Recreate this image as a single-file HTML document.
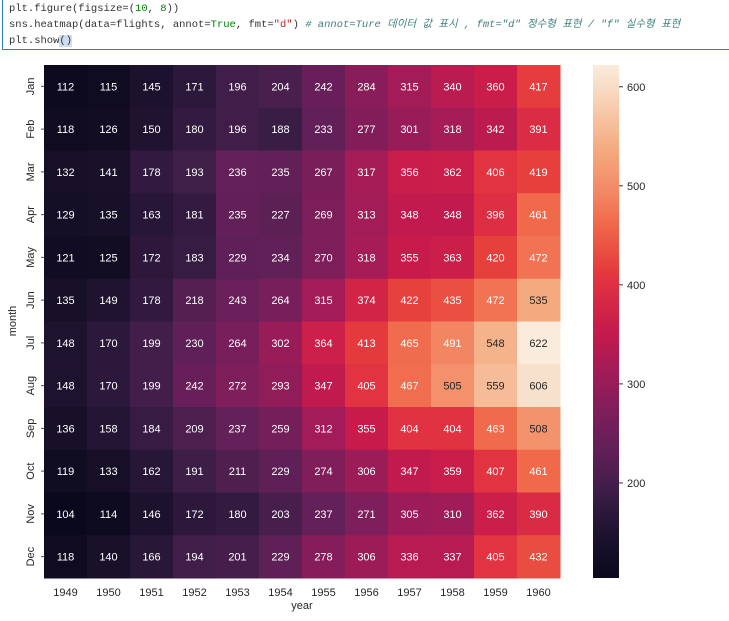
<!DOCTYPE html>
<html><head><meta charset="utf-8"><style>
body{margin:0;width:729px;height:621px;background:#fff;overflow:hidden;font-family:"Liberation Sans","Noto Sans CJK KR",sans-serif}
#cell{position:absolute;left:2px;top:-2px;width:727px;height:52px;border:1px solid #2f7bd0;border-top:none;border-right:none;background:#fff;font-family:"Liberation Mono","Noto Sans CJK KR",monospace;font-size:10.5px;line-height:16px;padding:3px 0 0 6px;box-sizing:border-box;color:#333;white-space:nowrap;overflow:hidden}
.k{color:#008000}.s{color:#ba2121}.c{color:#408080;font-style:italic}
</style></head><body>
<div id="cell">
<div>plt.figure(figsize=(<span class="k">10</span>, <span class="k">8</span>))</div>
<div>sns.heatmap(data=flights, annot=<span class="k">True</span>, fmt=<span class="s">"d"</span>) <span class="c"># annot=Ture 데이터 값 표시 , fmt="d" 정수형 표현 / "f" 실수형 표현</span></div>
<div>plt.show<span style="background:#cde">()</span></div>
</div>
<svg id="chart" width="729" height="621" style="position:absolute;left:0;top:0">
<defs><linearGradient id="cg" x1="0" y1="1" x2="0" y2="0"></linearGradient></defs>
<g id="cells"></g><g id="axes"></g>
</svg>
<script>
const years=["1949","1950","1951","1952","1953","1954","1955","1956","1957","1958","1959","1960"];
const months=["Jan","Feb","Mar","Apr","May","Jun","Jul","Aug","Sep","Oct","Nov","Dec"];
const r1=[112,115,145,171,196,204,242,284,315,340,360,417];
const r2=[118,126,150,180,196,188,233,277,301,318,342,391];
const r3=[132,141,178,193,236,235,267,317,356,362,406,419];
const r4=[129,135,163,181,235,227,269,313,348,348,396,461];
const r5=[121,125,172,183,229,234,270,318,355,363,420,472];
const r6=[135,149,178,218,243,264,315,374,422,435,472,535];
const r7=[148,170,199,230,264,302,364,413,465,491,548,622];
const r8=[148,170,199,242,272,293,347,405,467,505,559,606];
const r9=[136,158,184,209,237,259,312,355,404,404,463,508];
const r10=[119,133,162,191,211,229,274,306,347,359,407,461];
const r11=[104,114,146,172,180,203,237,271,305,310,362,390];
const r12=[118,140,166,194,201,229,278,306,336,337,405,432];
const rows=[r1,r2,r3,r4,r5,r6,r7,r8,r9,r10,r11,r12];
const cbTicks=[200,300,400,500,600];
const NS="http://www.w3.org/2000/svg";
const X0=44,X1=560,Y0=65,Y1=578,CBX=593,CBW=26;
const vmin=104,vmax=622;
const stops=[[0,[10,8,28]],[0.07,[25,17,42]],[0.14,[48,25,62]],[0.17,[62,30,72]],[0.25,[98,32,88]],[0.31,[120,30,90]],[0.40,[160,28,88]],[0.48,[198,26,76]],[0.58,[225,50,65]],[0.61,[230,64,60]],[0.69,[240,105,75]],[0.75,[242,135,100]],[0.83,[245,168,125]],[0.86,[245,180,140]],[0.97,[248,225,205]],[1,[250,235,221]]];
function cmap(v){let t=Math.max(0,Math.min(1,(v-vmin)/(vmax-vmin)));let i=0;while(i<stops.length-2&&t>stops[i+1][0])i++;const [p0,a]=stops[i],[p1,b]=stops[i+1];const f=(t-p0)/(p1-p0);return `rgb(${a.map((x,k)=>Math.round(x+(b[k]-x)*f)).join(",")})`;}
const cw=(X1-X0)/years.length,ch=(Y1-Y0)/months.length;
const xs=i=>X0+i*cw, ys=j=>Y0+j*ch, cy=v=>Y1-(v-vmin)/(vmax-vmin)*(Y1-Y0);
function mk(tag,attrs,parent,txt){const e=document.createElementNS(NS,tag);for(const k in attrs)e.setAttribute(k,attrs[k]);if(txt!==undefined)e.textContent=txt;parent.appendChild(e);return e;}
const G=document.getElementById('cells'),A=document.getElementById('axes');
rows.forEach((row,j)=>row.forEach((v,i)=>{
 const r=mk('rect',{x:xs(i),y:ys(j),width:cw+0.5,height:ch+0.5,fill:cmap(v)},G);
 
 
 const t=mk('text',{x:xs(i)+cw/2,y:ys(j)+ch/2+4,'text-anchor':'middle','font-size':'11',fill:v>=500?'#262626':'#fff'},G,String(v));
 
 
}));
years.forEach((y,i)=>{const t=mk('text',{x:xs(i)+cw/2,y:596,'text-anchor':'middle','font-size':'11',fill:'#262626'},A,y);
 
 });
months.forEach((m,j)=>{const yy=ys(j)+ch/2;const t=mk('text',{x:34,y:yy,'text-anchor':'middle','font-size':'11',fill:'#262626',transform:`rotate(-90 34 ${yy})`},A,m);
 mk('line',{x1:41,x2:44,y1:yy,y2:yy,stroke:'#555'},A);
 
 });
let t=mk('text',{x:302,y:609,'text-anchor':'middle','font-size':'11',fill:'#262626'},A,'year');


t=mk('text',{x:16,y:321,'text-anchor':'middle','font-size':'11',fill:'#262626',transform:'rotate(-90 16 321)'},A,'month');


const grad=document.getElementById('cg');
for(let k=0;k<=40;k++){mk('stop',{offset:k/40,'stop-color':cmap(vmin+(vmax-vmin)*k/40)},grad);}
const cb=mk('rect',{x:CBX,y:Y0,width:CBW,height:Y1-Y0,fill:'url(#cg)'},A);


cbTicks.forEach(v=>{const yy=cy(v);mk('line',{x1:CBX+CBW,x2:CBX+CBW+4,y1:yy,y2:yy,stroke:'#333'},A);
 const l=mk('text',{x:CBX+CBW+8,y:yy+4,'font-size':'11',fill:'#262626'},A,String(v));
 
 });
</script>
</body></html>
